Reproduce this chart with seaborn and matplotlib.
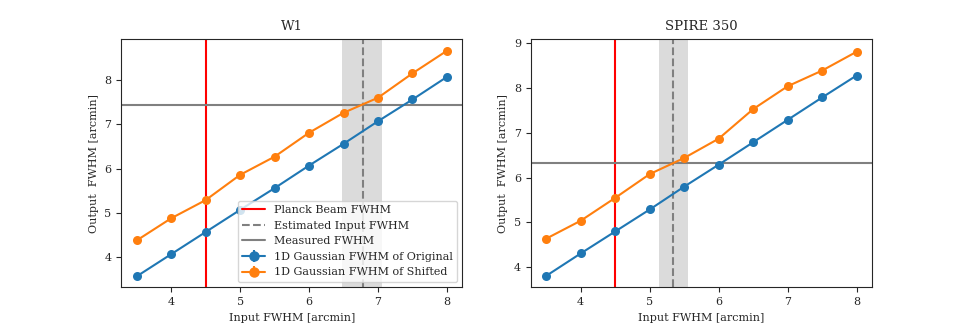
import numpy as np
import matplotlib
matplotlib.use("Agg")
import matplotlib.pyplot as plt
import seaborn as sns

# Datos
input_fwhm = [3.5, 4.0, 4.5, 5.0, 5.5, 6.0, 6.5, 7.0, 7.5, 8.0]

w1_original = [3.57, 4.07, 4.57, 5.07, 5.56, 6.07, 6.56, 7.07, 7.56, 8.07]
w1_shifted = [4.38, 4.88, 5.29, 5.86, 6.27, 6.81, 7.26, 7.60, 8.15, 8.66]
w1_measured = 7.44
w1_estimated = 6.78
w1_band = (6.48, 7.06)

spire_original = [3.81, 4.31, 4.80, 5.29, 5.80, 6.29, 6.79, 7.29, 7.79, 8.28]
spire_shifted = [4.64, 5.04, 5.55, 6.08, 6.44, 6.87, 7.53, 8.04, 8.39, 8.81]
spire_measured = 6.33
spire_estimated = 5.34
spire_band = (5.13, 5.56)

planck_beam = 4.5

sns.set_style("ticks")
plt.rcParams['font.family'] = ['DejaVu Serif']
plt.rcParams['font.size'] = 8

fig, axes = plt.subplots(1, 2, figsize=(9.69, 3.23), dpi=100)

paneles = [
    ("W1", w1_original, w1_shifted, w1_measured, w1_estimated, w1_band),
    ("SPIRE 350", spire_original, spire_shifted, spire_measured, spire_estimated, spire_band),
]

for i, (titulo, orig, shift, medido, estimado, banda) in enumerate(paneles):
    ax = axes[i]
    ax.axvline(planck_beam, color='red', lw=1.5, label='Planck Beam FWHM')
    ax.axvspan(banda[0], banda[1], color='lightgray', alpha=0.8, lw=0)
    ax.axvline(estimado, color='gray', ls='--', lw=1.5, label='Estimated Input FWHM')
    ax.axhline(medido, color='gray', lw=1.5, label='Measured FWHM')
    sns.lineplot(x=input_fwhm, y=orig, ax=ax, color='C0', marker='o',
                 markersize=6.5, markeredgewidth=0, lw=1.5)
    sns.lineplot(x=input_fwhm, y=shift, ax=ax, color='C1', marker='o',
                 markersize=6.5, markeredgewidth=0, lw=1.5)
    # handles tipo errorbar para la leyenda
    ax.errorbar([], [], yerr=[], color='C0', marker='o', markersize=6.5, lw=1.5,
                label='1D Gaussian FWHM of Original')
    ax.errorbar([], [], yerr=[], color='C1', marker='o', markersize=6.5, lw=1.5,
                label='1D Gaussian FWHM of Shifted')
    ax.set_title(titulo, fontsize=9.5)
    ax.set_xlabel('Input FWHM [arcmin]')
    ax.set_ylabel('Output  FWHM [arcmin]')
    ax.set_xlim(3.275, 8.225)
    if ax.get_legend() is not None:
        ax.get_legend().remove()

axes[0].set_ylim(3.32, 8.93)
axes[1].set_ylim(3.55, 9.1)
axes[0].legend(loc='lower right')

plt.subplots_adjust(left=0.125, right=0.9, bottom=0.11, top=0.88, wspace=0.2)
plt.savefig('out.png')
